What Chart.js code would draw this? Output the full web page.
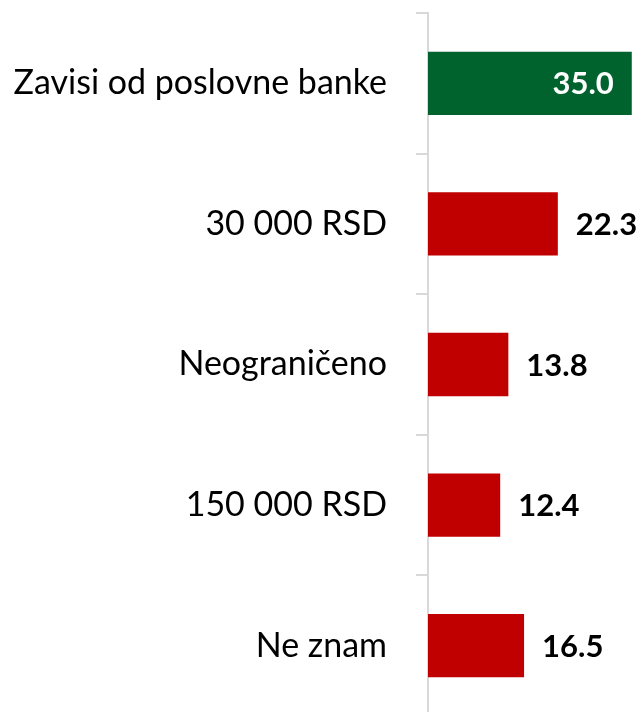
<!DOCTYPE html>
<html>
<head>
<meta charset="utf-8">
<script src="https://cdn.jsdelivr.net/npm/chart.js@4/dist/chart.umd.min.js"></script>
<style>
html,body{margin:0;padding:0;background:#fff;overflow:hidden;}
#wrap{position:relative;width:644px;height:716px;}
</style>
</head>
<body>
<div id="wrap"><canvas id="c"></canvas></div>
<script>
const categories = ["Zavisi od poslovne banke", "30 000 RSD", "Neograničeno", "150 000 RSD", "Ne znam"];
const values = [35.0, 22.3, 13.8, 12.4, 16.5];
const barColors = ["#00632E", "#C00000", "#C00000", "#C00000", "#C00000"];

const valueLabels = {
  id: 'valueLabels',
  afterDatasetsDraw(chart) {
    const ctx = chart.ctx;
    const meta = chart.getDatasetMeta(0);
    ctx.save();
    ctx.font = 'bold 31px Lato';
    ctx.textBaseline = 'middle';
    meta.data.forEach((bar, i) => {
      const txt = values[i].toFixed(1);
      if (i === 0) {
        ctx.fillStyle = '#ffffff';
        ctx.textAlign = 'right';
        ctx.fillText(txt, bar.x - 18, bar.y + 1);
      } else {
        ctx.fillStyle = '#000000';
        ctx.textAlign = 'left';
        ctx.fillText(txt, bar.x + 18, bar.y + 1);
      }
    });
    ctx.restore();
  }
};

new Chart(document.getElementById('c'), {
  type: 'bar',
  data: {
    labels: categories,
    datasets: [{
      data: values,
      backgroundColor: barColors,
      borderWidth: 0,
      categoryPercentage: 0.45,
      barPercentage: 1.0
    }]
  },
  options: {
    indexAxis: 'y',
    responsive: true,
    maintainAspectRatio: false,
    animation: false,
    layout: { padding: { top: 13, right: 0, bottom: 0, left: 0 } },
    plugins: { legend: { display: false }, tooltip: { enabled: false } },
    scales: {
      x: {
        display: false,
        min: 0,
        max: 37.1
      },
      y: {
        offset: true,
        afterFit(scale) {
          scale.width = 428;
          scale.paddingTop = 0;
          scale.paddingBottom = 0;
        },
        border: { display: true, color: '#D9D9D9', width: 2 },
        grid: {
          offset: true,
          drawOnChartArea: false,
          drawTicks: true,
          tickLength: 12,
          color: '#D9D9D9',
          lineWidth: 2
        },
        ticks: {
          color: '#000000',
          padding: 29,
          font: { family: 'Lato', size: 34 }
        }
      }
    }
  },
  plugins: [valueLabels]
});
</script>
</body>
</html>
